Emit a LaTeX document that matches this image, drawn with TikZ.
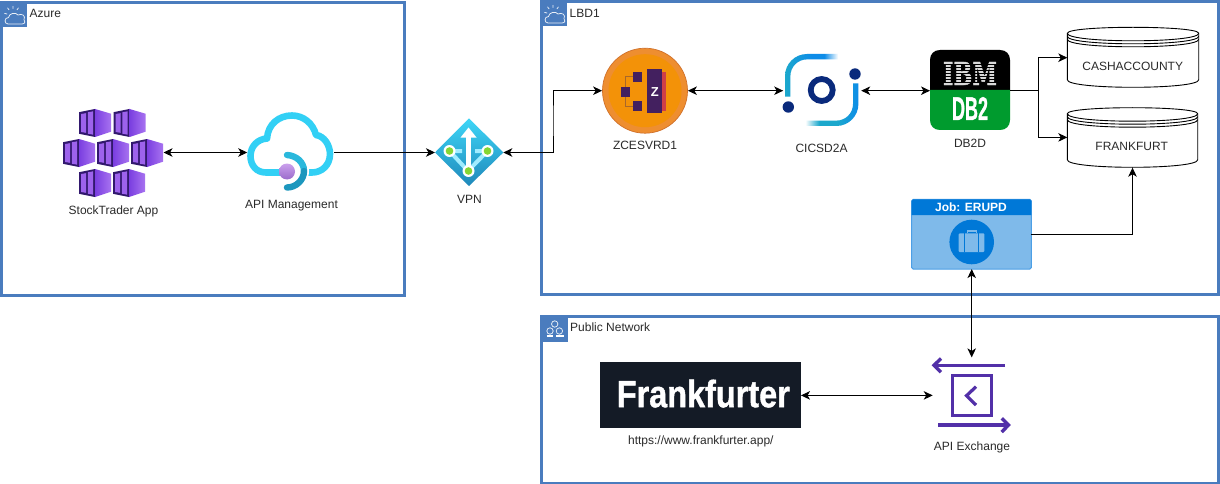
\documentclass[tikz,border=0pt]{standalone}
\usepackage{fontspec}
\usepackage{graphicx}
\setmainfont{Liberation Sans}
\newfontfamily\ibmfont{DejaVu Serif}[BoldFeatures={FakeBold=1.5}]
\newfontfamily\heavyfont{Liberation Sans}[BoldFeatures={FakeBold=1.2}]
\usetikzlibrary{arrows.meta,calc}
\definecolor{frameblue}{HTML}{4A7CBE}
\definecolor{txt}{HTML}{2A2A2A}
\definecolor{cubedark}{HTML}{32186E}
\definecolor{cubemid}{HTML}{7A3EE0}
\definecolor{cubelight}{HTML}{A873F0}
\definecolor{cubewin}{HTML}{9D62EC}
\definecolor{cloudcy}{HTML}{32D0F5}
\definecolor{cloudcyb}{HTML}{2AB8DC}
\definecolor{apidark}{HTML}{1C97BE}
\definecolor{plumtop}{HTML}{CBA0EC}
\definecolor{plumbot}{HTML}{9A6CCB}
\definecolor{vpntop}{HTML}{3ED6F7}
\definecolor{vpnbot}{HTML}{1F88BA}
\definecolor{vpnline}{HTML}{A0ECFF}
\definecolor{vpngreen}{HTML}{86D633}
\definecolor{zcouter}{HTML}{EE8E30}
\definecolor{zcinner}{HTML}{F39208}
\definecolor{zcedge}{HTML}{D0702A}
\definecolor{zcpurple}{HTML}{43205F}
\definecolor{zcred}{HTML}{CF3F48}
\definecolor{zcbrown}{HTML}{A8672A}
\definecolor{cicsnavy}{HTML}{0A2A7C}
\definecolor{cicsteal}{HTML}{1CA8CC}
\definecolor{cicsblue}{HTML}{0D8CE8}
\definecolor{dbgreen}{HTML}{009B2E}
\definecolor{jobhead}{HTML}{0078D7}
\definecolor{jobbody}{HTML}{7FBAEA}
\definecolor{jobedge}{HTML}{4C9FE6}
\definecolor{ffblack}{HTML}{141B26}
\definecolor{xpurple}{HTML}{5230A8}
\pgfdeclarehorizontalshading{cicsfadeA}{100bp}{color(0bp)=(cicsteal); color(25bp)=(cicsteal); color(50bp)=(cicsblue); color(62bp)=(cicsblue); color(75bp)=(white); color(100bp)=(white)}
\pgfdeclarehorizontalshading{cicsfadeB}{100bp}{color(0bp)=(white); color(25bp)=(white); color(38bp)=(cicsteal); color(55bp)=(cicsteal); color(75bp)=(cicsblue); color(100bp)=(cicsblue)}
\tikzset{
  frame/.style={draw=frameblue,line width=3pt,fill=white},
  iconsq/.style={fill=frameblue,draw=none},
  glyph/.style={draw=white!88!frameblue,line width=.75pt,line cap=round,line join=round},
  lbl/.style={text=txt,font=\fontsize{12}{14}\selectfont,inner sep=0pt},
  grp/.style={lbl,anchor=west},
  slot/.style={draw=none,inner sep=0pt,outer sep=0pt,rectangle},
  conn/.style={draw=black,line width=1pt,line join=miter},
  one/.style={conn,-{Stealth[length=9pt,width=8.5pt,inset=2.5pt]}},
  two/.style={conn,{Stealth[length=9pt,width=8.5pt,inset=2.5pt]}-{Stealth[length=9pt,width=8.5pt,inset=2.5pt]}},
  store/.style={draw=black,line width=.9pt,fill=white},
  cube/.pic={
    \fill[cubedark] (0,3.2)--(16,0)--(16,28)--(0,24.8)--cycle;
    \shade[left color=cubemid,right color=cubelight] (16,0)--(32,4.7)--(32,22.7)--(16,28)--cycle;
    \fill[cubewin] (2,5)--(7,4.2)--(7,23.8)--(2,23)--cycle;
    \fill[cubewin] (8.8,3.3)--(14.2,2.3)--(14.2,25.7)--(8.8,24.7)--cycle;
  },
  cloudglyph/.pic={
    \draw[glyph] (5,20) .. controls (1,20) and (1,13.5) .. (5.5,13.5)
      .. controls (6,9) and (13,8) .. (15,11)
      .. controls (19,9) and (23,12) .. (21,15.5)
      .. controls (23,17) and (22,20) .. (19,20) -- cycle;
    \draw[glyph] (10,2.2)--(10,4.6) (4.6,4)--(6,5.8) (15.4,4)--(14,5.8) (1.6,9.4)--(4,10);
  },
}
\begin{document}
\begin{tikzpicture}[x=1pt,y=-1pt]
\useasboundingbox (0,0) rectangle (1220,484);
\fill[white] (0,0) rectangle (1220,484);

% frames
\draw[frame] (1.5,2.5) rectangle (404.5,295);
\draw[frame] (541.5,1.5) rectangle (1218.5,294);
\draw[frame] (541.5,316.5) rectangle (1218.5,483);

% group icons
\fill[iconsq] (3,4) rectangle (27,27.5);
\pic at (3,4) {cloudglyph};
\node[grp] (azlabel) at (29.5,13.5) {Azure};
\fill[iconsq] (543,3) rectangle (567,26.5);
\pic at (543,3) {cloudglyph};
\node[grp] (lbdlabel) at (569.5,13) {LBD1};
\fill[iconsq] (543,318) rectangle (568,342);
\draw[glyph] (554.7,324) circle (3.2) (550,331) circle (3.2) (559.4,331) circle (3.2);
\draw[white,line width=1.8pt] (546.7,336.3)--(552.7,336.3) (556,336.3)--(563.5,336.3);
\node[grp] (publabel) at (570,327.5) {Public Network};

% StockTrader App
\pic at (79,109) {cube};
\pic at (113.5,109) {cube};
\pic at (63,139) {cube};
\pic at (97,139) {cube};
\pic at (131,139) {cube};
\pic at (79,169) {cube};
\pic at (113,169) {cube};
\node[slot,minimum width=100.5pt,minimum height=88pt] (stock) at (113.25,152.5) {};
\node[lbl] (stocklabel) at (113.5,211.5) {StockTrader App};

% API Management
\draw[cloudcy,line width=6.6pt,line cap=butt,line join=round]
  (283,172.5) -- (266,172.5) .. controls (256,172.5) and (250.5,165) .. (250.5,156)
  .. controls (250.5,146) and (258,139) .. (267,138.5)
  .. controls (268,124) and (279,115.5) .. (292,115.5)
  .. controls (303,115.5) and (313,123) .. (316,135)
  .. controls (324,136) and (330,145) .. (330,154)
  .. controls (330,165) and (322,172.5) .. (312,172.5) -- (300,172.5);
\draw[white,line width=11pt] (287,155) .. controls (309,154) and (309,187) .. (287,188);
\draw[cloudcyb,line width=6.4pt,line cap=round] (287,155) .. controls (296,155.5) and (304,162) .. (304,171);
\draw[apidark,line width=6.4pt,line cap=round] (304,171) .. controls (304,180) and (296,187.5) .. (287,187.5);
\shade[top color=plumtop,bottom color=plumbot] (287,171.5) circle (8);
\node[slot,minimum width=86.5pt,minimum height=80pt] (api) at (290.5,152.5) {};
\node[lbl] (apilabel) at (291.5,206) {API Management};

% VPN
\shade[top color=vpntop,bottom color=vpnbot] (469,118.3)--(503.3,152.5)--(469,186)--(435,152.5)--cycle;
\draw[vpnline,line width=4pt] (449.5,151)--(468,171)--(487.5,151) (449.5,151)--(462,151) (475,151)--(487.5,151);
\draw[white,line width=4.6pt] (468.5,171)--(468.5,136);
\fill[white] (468.5,127.5)--(476.5,137.5)--(460.5,137.5)--cycle;
\foreach \cx/\cy in {449.5/151,487.5/151,468.5/171}{
  \fill[white] (\cx,\cy) circle (6);
  \fill[vpngreen] (\cx,\cy) circle (3.8);
}
\node[slot,minimum width=68.3pt,minimum height=67.7pt] (vpn) at (469.15,152.5) {};
\node[lbl] (vpnlabel) at (469.5,199.5) {VPN};

% ZCESVRD1
\node[circle,draw=zcedge,line width=.7pt,fill=zcouter,minimum size=85pt,inner sep=0pt] (zc) at (645,90.7) {};
\fill[zcinner] (645,90.7) circle (36.5);
\draw[zcbrown,line width=.8pt] (633,76.7)--(625.5,76.7)--(625.5,106)--(633,106);
\fill[zcpurple] (632.7,71.7) rectangle (642.3,81.7);
\fill[zcpurple] (620.7,86.7) rectangle (630.3,96.7);
\fill[zcpurple] (632.7,101) rectangle (642.3,111);
\fill[zcpurple] (647.3,69) rectangle (662.3,113.3);
\fill[zcred] (662.3,71.7) rectangle (666.3,111);
\node[inner sep=0pt,text=white,font=\fontsize{13}{14}\selectfont\bfseries] (zmark) at (654.8,92) {Z};
\node[lbl] (zclabel) at (645,145.5) {ZCESVRD1};

% CICSD2A
\shade[shading=cicsfadeA]
  (785,96.7) -- (785,76) .. controls (785,63.85) and (794.85,54) .. (807,54)
  -- (838,54) -- (838,59.4) -- (807,59.4)
  .. controls (797.8,59.4) and (790.4,66.8) .. (790.4,76) -- (790.4,96.7) -- cycle;
\shade[shading=cicsfadeB]
  (858.4,83.3) -- (858.4,104) .. controls (858.4,116.15) and (848.55,126) .. (836.4,126)
  -- (805.4,126) -- (805.4,120.6) -- (836.4,120.6)
  .. controls (845.6,120.6) and (853,113.2) .. (853,104) -- (853,83.3) -- cycle;
\fill[cicsnavy] (788.3,107) circle (5.7);
\fill[cicsnavy] (855,74) circle (5.7);
\draw[cicsnavy,line width=5.8pt] (821.7,90) circle (11);
\node[slot,minimum width=78pt,minimum height=72pt] (cics) at (822.2,90.7) {};
\node[lbl] (cicslabel) at (821.5,148.5) {CICSD2A};

% DB2D
\fill[black] (930,90) -- (930,60) .. controls (930,54) and (934,50) .. (940,50)
  -- (1000,50) .. controls (1006,50) and (1010,54) .. (1010,60) -- (1010,90) -- cycle;
\fill[dbgreen] (930,90) -- (930,120) .. controls (930,126) and (934,130) .. (940,130)
  -- (1000,130) .. controls (1006,130) and (1010,126) .. (1010,120) -- (1010,90) -- cycle;
\node[inner sep=0pt,text=white!85!black] (ibmmark) at (970,73.5) {\resizebox{54pt}{23pt}{\ibmfont\bfseries IBM}};
\foreach \sy in {64.5,67.5,70.5,73.5,76.5,79.5,82.5}{
  \draw[black,line width=.7pt] (941,\sy)--(999,\sy);
}
\node[inner sep=0pt,text=white] (dbmark) at (970,108.5) {\resizebox{36pt}{23pt}{\heavyfont\bfseries DB2}};
\node[slot,minimum width=80pt,minimum height=80pt] (db) at (970,90.7) {};
\node[lbl] (dblabel) at (970,143.7) {DB2D};

% datastores
\path[store] (1067.3,33.3) .. controls (1067.3,25.3) and (1198.7,25.3) .. (1198.7,33.3)
  -- (1198.7,79.8) .. controls (1198.7,89.8) and (1067.3,89.8) .. (1067.3,79.8) -- cycle;
\draw[store,fill=none] (1067.3,33.3) .. controls (1067.3,43.3) and (1198.7,43.3) .. (1198.7,33.3)
  (1067.3,36.3) .. controls (1067.3,46.3) and (1198.7,46.3) .. (1198.7,36.3)
  (1067.3,39.3) .. controls (1067.3,49.3) and (1198.7,49.3) .. (1198.7,39.3);
\node[slot,minimum width=131.4pt,minimum height=60pt] (cash) at (1133,57.7) {};
\node[lbl] (cashlabel) at (1132.7,66.7) {CASHACCOUNTY};
\path[store] (1067.3,113.7) .. controls (1067.3,105.7) and (1197.7,105.7) .. (1197.7,113.7)
  -- (1197.7,159.8) .. controls (1197.7,169.8) and (1067.3,169.8) .. (1067.3,159.8) -- cycle;
\draw[store,fill=none] (1067.3,113.7) .. controls (1067.3,123.7) and (1197.7,123.7) .. (1197.7,113.7)
  (1067.3,116.7) .. controls (1067.3,126.7) and (1197.7,126.7) .. (1197.7,116.7)
  (1067.3,119.7) .. controls (1067.3,129.7) and (1197.7,129.7) .. (1197.7,119.7);
\node[slot,minimum width=130.4pt,minimum height=60.6pt] (frank) at (1132.5,137.4) {};
\node[lbl] (franklabel) at (1131.7,146.7) {FRANKFURT};

% Job
\node[draw=jobedge,line width=1pt,fill=jobbody,rectangle,rounded corners=1.5pt,inner sep=0pt,outer sep=0pt,minimum width=119.6pt,minimum height=69.7pt] (job) at (971.5,234.2) {};
\fill[jobhead] (911.7,201) -- (911.7,215) -- (1031.3,215) -- (1031.3,201) -- (1030,199.4) -- (913,199.4) -- cycle;
\node[inner sep=0pt,text=white,font=\fontsize{12}{14}\selectfont\bfseries] (jobtitle) at (971,207) {Job: ERUPD};
\fill[jobhead] (971.7,242) circle (22.3);
\draw[jobbody,line width=1.4pt] (967.6,233) -- (967.6,231) -- (976.4,231) -- (976.4,233);
\fill[jobbody,rounded corners=1pt] (958.7,233.3) rectangle (984.3,252);
\draw[jobhead,line width=.9pt] (964.5,233.3)--(964.5,252) (978.5,233.3)--(978.5,252);

% Frankfurter
\node[fill=ffblack,minimum width=201pt,minimum height=66pt,inner sep=0pt,outer sep=0pt] (ffbox) at (700.5,394.7) {};
\node[inner sep=0pt,text=white] (ffword) at (703.3,393.6) {\resizebox{173pt}{27.5pt}{\heavyfont\bfseries Frankfurter}};
\node[lbl] (fflabel) at (700.8,441.7) {https://www.frankfurter.app/};

% API Exchange
\draw[xpurple,line width=3.4pt] (1005,365.3)--(935,365.3);
\draw[xpurple,line width=3.4pt,line join=miter] (941,358.5)--(934,365.3)--(941,372.2);
\draw[xpurple,line width=3pt] (952.2,375.5) rectangle (991.3,415);
\draw[xpurple,line width=3.2pt] (976,386.7)--(966.5,395.7)--(976,405);
\draw[xpurple,line width=3.4pt] (938.3,425)--(1008,425);
\draw[xpurple,line width=3.4pt,line join=miter] (1001.7,418.3)--(1008.5,425)--(1001.7,432);
\node[slot,minimum width=78pt,minimum height=76pt] (xch) at (971.7,395.4) {};
\node[lbl] (xchlabel) at (972,447.7) {API Exchange};

% connectors
\coordinate (vpnbend) at (553,120);
\coordinate (dbbend) at (1038.7,100);
\draw[two] (stock.east) -- (api.west);
\draw[one] (api.east) -- (vpn.west);
\draw[two] (vpn.east) -| (vpnbend) |- (zc.west);
\draw[two] (zc.east) -- (cics.west);
\draw[two] (cics.east) -- (db.west);
\draw[one] (db.east) -| (dbbend) |- (cash.west);
\draw[one] (db.east) -| (dbbend) |- (frank.west);
\draw[one] (job.east |- 0,234.3) -| (frank.south);
\draw[two] (job.south -| xch.north) -- (xch.north);
\draw[two] (ffbox.east |- xch.west) -- (xch.west);
\end{tikzpicture}
\end{document}
